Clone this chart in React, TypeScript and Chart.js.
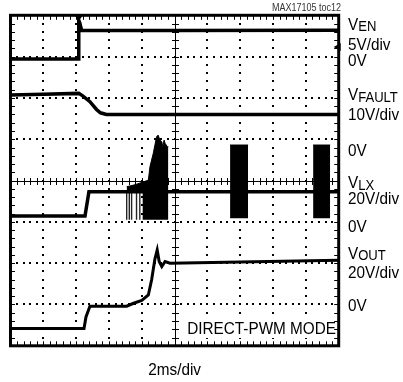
import React, { useEffect, useRef } from "react";
import { Chart, registerables } from "chart.js";

Chart.register(...registerables);

// ---- axes (divisions) ----
const X_DIVS = 10;
const Y_DIVS = 8;
const MINOR = 5;

// ---- traces (x in time divisions, y in vertical divisions from bottom) ----
const EN_X = [0, 2.07, 2.08, 2.11, 2.17, 5, 10];
const EN_Y = [6.94, 6.94, 7.88, 7.82, 7.63, 7.63, 7.64];

const FAULT_X = [0, 1.0, 2.08, 2.2, 2.42, 2.62, 2.74, 2.92, 10];
const FAULT_Y = [6.07, 6.09, 6.11, 6.05, 5.91, 5.72, 5.64, 5.6, 5.6];

const LX_X = [0, 2.27, 2.39, 10];
const LX_Y = [3.14, 3.14, 3.73, 3.73];

const BURST1_X = [3.54, 3.8, 4.2, 4.25, 4.35, 4.45, 4.5, 4.55, 4.61, 4.64, 4.68, 4.71, 4.78, 4.81];
const BURST1_Y = [3.85, 3.9, 4.01, 4.34, 4.66, 5.06, 5.1, 4.98, 4.94, 4.82, 4.98, 4.9, 4.82, 4.82];
const BURST1_SOLID_X = [4.02, 4.81];
const BURST1_LOW = 3.05;
const PULSE_X = [3.54, 3.62, 3.69, 3.84, 3.94];

const BURST2_X = [6.69, 7.24];
const BURST3_X = [9.22, 9.74];
const BURST_HIGH = 4.86;
const BURST_LOW = 3.09;

const OUT_X = [0, 2.24, 2.3, 2.42, 3.54, 3.75, 4.0, 4.2, 4.3, 4.4, 4.47, 4.53, 4.61, 4.71, 4.86, 7, 10];
const OUT_Y = [0.42, 0.42, 0.7, 0.96, 0.96, 1.03, 1.1, 1.23, 1.6, 2.1, 2.32, 2.04, 1.92, 2.04, 2.0, 2.03, 2.07];

// ---- texts ----
const CHANNELS = ["EN", "FAULT", "LX", "OUT"];
const CH_SCALES = ["5V/div", "10V/div", "20V/div", "20V/div"];
const ZERO_LABEL = "0V";
const TIME_LABEL = "2ms/div";
const MODE_LABEL = "DIRECT-PWM MODE";
const DOC_LABEL = "MAX17105 toc12";

const pts = (xs: number[], ys: number[]) => xs.map((x, i) => ({ x, y: ys[i] }));
const flat = (xs: number[], v: number) => xs.map((x) => ({ x, y: v }));

const FONT = '"Liberation Sans", Arial, Helvetica, sans-serif';
const CONDENSE = 0.9;

function txt(ctx: CanvasRenderingContext2D, s: string, x: number, y: number, size: number, align: CanvasTextAlign = "left") {
  ctx.font = `${size}px ${FONT}`;
  ctx.textAlign = align;
  ctx.textBaseline = "alphabetic";
  const w = ctx.measureText(s).width * CONDENSE;
  ctx.fillText(s, x, y, w);
  return w;
}

const scopePlugin = {
  id: "scope",
  beforeDatasetsDraw(chart: any) {
    const { ctx, chartArea: a, scales } = chart;
    const xs = scales.x;
    const ys = scales.y;
    ctx.save();
    ctx.fillStyle = "#000";
    // dotted vertical grid lines
    for (let i = 1; i < X_DIVS; i++) {
      if (i === X_DIVS / 2) continue;
      const px = Math.round(xs.getPixelForValue(i));
      for (let j = 1; j < Y_DIVS * MINOR; j++) {
        const py = Math.round(ys.getPixelForValue(j / MINOR));
        ctx.fillRect(px - 1, py - 1, 2, 2);
      }
    }
    // dotted horizontal grid lines
    for (let i = 1; i < Y_DIVS; i++) {
      if (i === Y_DIVS / 2) continue;
      const py = Math.round(ys.getPixelForValue(i));
      for (let j = 1; j < X_DIVS * MINOR; j++) {
        const px = Math.round(xs.getPixelForValue(j / MINOR));
        ctx.fillRect(px - 1, py - 1, 2, 2);
      }
    }
    // centre lines with ticks
    ctx.strokeStyle = "#000";
    ctx.lineWidth = 1;
    const cx = Math.round(xs.getPixelForValue(X_DIVS / 2)) + 0.5;
    const cy = Math.round(ys.getPixelForValue(Y_DIVS / 2)) + 0.5;
    ctx.beginPath();
    ctx.moveTo(cx, a.top);
    ctx.lineTo(cx, a.bottom);
    ctx.moveTo(a.left, cy);
    ctx.lineTo(a.right, cy);
    for (let j = 1; j < Y_DIVS * MINOR; j++) {
      const py = Math.round(ys.getPixelForValue(j / MINOR)) + 0.5;
      ctx.moveTo(cx - 3.5, py);
      ctx.lineTo(cx + 3.5, py);
    }
    for (let j = 1; j < X_DIVS * MINOR; j++) {
      const px = Math.round(xs.getPixelForValue(j / MINOR)) + 0.5;
      ctx.moveTo(px, cy - 3.5);
      ctx.lineTo(px, cy + 3.5);
    }
    ctx.stroke();
    ctx.restore();
  },
  afterDatasetsDraw(chart: any) {
    const { ctx, chartArea: a, scales } = chart;
    const xs = scales.x;
    const ys = scales.y;
    ctx.save();
    // mode label box
    ctx.fillStyle = "#fff";
    ctx.fillRect(184, 316, a.right - 185, 22);
    ctx.fillStyle = "#000";
    txt(ctx, MODE_LABEL, 336, 333.5, 17, "right");

    // frame
    ctx.strokeStyle = "#000";
    ctx.lineWidth = 3;
    ctx.strokeRect(a.left, a.top, a.right - a.left, a.bottom - a.top);
    // border ticks
    ctx.lineWidth = 1;
    ctx.beginPath();
    for (let j = 1; j < X_DIVS * MINOR; j++) {
      const px = Math.round(xs.getPixelForValue(j / MINOR)) + 0.5;
      ctx.moveTo(px, a.top);
      ctx.lineTo(px, a.top + 4.5);
      ctx.moveTo(px, a.bottom);
      ctx.lineTo(px, a.bottom - 4.5);
    }
    for (let j = 1; j < Y_DIVS * MINOR; j++) {
      const py = Math.round(ys.getPixelForValue(j / MINOR)) + 0.5;
      ctx.moveTo(a.left, py);
      ctx.lineTo(a.left + 4.5, py);
      ctx.moveTo(a.right, py);
      ctx.lineTo(a.right - 4.5, py);
    }
    ctx.stroke();

    // trigger marker
    const tx = xs.getPixelForValue(EN_X[2]);
    ctx.beginPath();
    ctx.moveTo(tx - 4, a.top);
    ctx.lineTo(tx + 4, a.top);
    ctx.lineTo(tx, a.top + 6);
    ctx.closePath();
    ctx.fill();
    // ground marker (right)
    const gy = ys.getPixelForValue(7.23);
    ctx.beginPath();
    ctx.moveTo(a.right - 5, gy);
    ctx.lineTo(a.right + 2, gy - 4);
    ctx.lineTo(a.right + 2, gy + 4);
    ctx.closePath();
    ctx.fill();

    // right side labels
    const lx = 348;
    const names = [29.5, 100, 188, 258.5];
    const scl = [49.5, 119.5, 203.5, 277.5];
    const zero = [65.5, 156, 232, 310.5];
    ctx.fillStyle = "#000";
    for (let i = 0; i < CHANNELS.length; i++) {
      const w = txt(ctx, "V", lx, names[i], 17);
      txt(ctx, CHANNELS[i], lx + w, names[i] + 1.5, 14.5);
      txt(ctx, CH_SCALES[i], lx, scl[i], 17);
      txt(ctx, ZERO_LABEL, lx, zero[i], 17);
    }
    // time label
    txt(ctx, TIME_LABEL, (a.left + a.right) / 2, 375, 17, "center");
    // doc label
    ctx.fillStyle = "#333";
    txt(ctx, DOC_LABEL, 341, 10.5, 10, "right");
    ctx.restore();
  },
};

export default function App() {
  const ref = useRef<HTMLCanvasElement>(null);
  useEffect(() => {
    const black = "#000";
    const trace = (data: any[], w: number) => ({
      data,
      borderColor: black,
      borderWidth: w,
      fill: false,
      pointRadius: 0,
      tension: 0,
    });
    const pulseData: any[] = [];
    PULSE_X.forEach((x) => {
      pulseData.push({ x, y: LX_Y[2] }, { x, y: BURST1_LOW }, { x, y: null });
    });
    const chart = new Chart(ref.current!, {
      type: "line",
      data: {
        datasets: [
          trace(pts(EN_X, EN_Y), 3.5),
          trace(pts(FAULT_X, FAULT_Y), 3.5),
          trace(pts(LX_X, LX_Y), 3.5),
          trace(pts(OUT_X, OUT_Y), 3),
          {
            data: pts(BURST1_X, BURST1_Y),
            borderColor: black,
            borderWidth: 1,
            backgroundColor: black,
            fill: { value: LX_Y[2] },
            pointRadius: 0,
            tension: 0,
          },
          {
            data: flat(BURST1_SOLID_X, LX_Y[2]),
            borderColor: black,
            borderWidth: 1,
            backgroundColor: black,
            fill: { value: BURST1_LOW },
            pointRadius: 0,
          },
          {
            data: pulseData,
            borderColor: "#222",
            borderWidth: 1.4,
            fill: false,
            pointRadius: 0,
            spanGaps: false,
          },
          {
            data: flat(BURST2_X, BURST_HIGH),
            borderColor: black,
            borderWidth: 1,
            backgroundColor: black,
            fill: { value: BURST_LOW },
            pointRadius: 0,
          },
          {
            data: flat(BURST3_X, BURST_HIGH),
            borderColor: black,
            borderWidth: 1,
            backgroundColor: black,
            fill: { value: BURST_LOW },
            pointRadius: 0,
          },
        ] as any,
      },
      options: {
        animation: false,
        responsive: false,
        maintainAspectRatio: false,
        devicePixelRatio: 1,
        layout: { padding: { left: 10.5, top: 15.3, right: 64.3, bottom: 36.2 } },
        scales: {
          x: { type: "linear", min: 0, max: X_DIVS, display: false },
          y: { type: "linear", min: 0, max: Y_DIVS, display: false },
        },
        plugins: {
          legend: { display: false },
          tooltip: { enabled: false },
        },
        events: [],
      },
      plugins: [scopePlugin],
    } as any);
    return () => chart.destroy();
  }, []);
  return (
    <div style={{ position: "fixed", left: 0, top: 0, width: 403, height: 382, background: "#fff" }}>
      <canvas ref={ref} width={403} height={382} style={{ display: "block", width: 403, height: 382 }} />
    </div>
  );
}
